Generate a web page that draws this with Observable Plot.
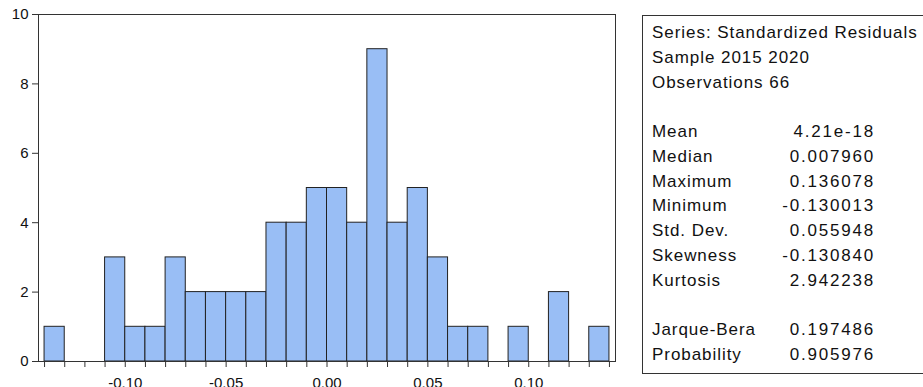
<!DOCTYPE html>
<html>
<head>
<meta charset="utf-8">
<script src="https://cdn.jsdelivr.net/npm/d3@7"></script>
<script src="https://cdn.jsdelivr.net/npm/@observablehq/plot@0.6"></script>
<style>
  html, body { margin: 0; padding: 0; background: #ffffff; overflow: hidden; }
  #wrap { position: relative; width: 923px; height: 387px; font-family: "Liberation Sans", Arial, sans-serif; }
  #chart { position: absolute; left: 0; top: 0; }
  #stats {
    position: absolute; left: 642px; top: 15px; width: 300px; height: 359px;
    border: 1px solid #333; box-sizing: border-box; padding: 5px 0 0 9px;
    font-size: 17px; line-height: 24.75px; color: #111; white-space: nowrap;
  }
  .hdr, .lab { letter-spacing: 0.95px; }
  .val { letter-spacing: 1.8px; margin-right: -2px; }
  .row { display: flex; justify-content: space-between; width: 221px; }
  .gap { height: 24.75px; }
</style>
</head>
<body>
<div id="wrap">
  <div id="chart"></div>
  <div id="stats"></div>
</div>
<script>
// Histogram bins (lower edges, width 0.01) and observed counts
const binLower = [-0.14, -0.13, -0.12, -0.11, -0.10, -0.09, -0.08, -0.07, -0.06, -0.05, -0.04, -0.03, -0.02, -0.01,
                  0.00, 0.01, 0.02, 0.03, 0.04, 0.05, 0.06, 0.07, 0.08, 0.09, 0.10, 0.11, 0.12, 0.13];
const binWidth = 0.01;
const counts = [1, 0, 0, 3, 1, 1, 3, 2, 2, 2, 2, 4, 4, 5,
                5, 4, 9, 4, 5, 3, 1, 1, 0, 1, 0, 2, 0, 1];
const xTickLabels = [-0.10, -0.05, 0.00, 0.05, 0.10];
const yTicks = [0, 2, 4, 6, 8, 10];

// Statistics panel text
const headerLines = ["Series: Standardized Residuals", "Sample 2015 2020", "Observations 66"];
const statLabels = ["Mean", "Median", "Maximum", "Minimum", "Std. Dev.", "Skewness", "Kurtosis"];
const statValues = ["4.21e-18", "0.007960", "0.136078", "-0.130013", "0.055948", "-0.130840", "2.942238"];
const testLabels = ["Jarque-Bera", "Probability"];
const testValues = ["0.197486", "0.905976"];

const bins = binLower.map((lo, i) => ({x1: lo, x2: +(lo + binWidth).toFixed(2), count: counts[i]}))
  .filter(d => d.count > 0);
const binEdges = [...binLower, +(binLower[binLower.length - 1] + binWidth).toFixed(2)];

const chart = Plot.plot({
  width: 923,
  height: 395,
  marginLeft: 38,
  marginRight: 308,
  marginTop: 14,
  marginBottom: 34,
  style: {fontFamily: "'Liberation Sans', Arial, sans-serif", fontSize: "15px", color: "#111", background: "transparent", overflow: "visible"},
  x: {domain: [-0.143, 0.143]},
  y: {domain: [0, 10]},
  marks: [
    Plot.rectY(bins, {x1: "x1", x2: "x2", y: "count", fill: "#99bef5", stroke: "#222", strokeWidth: 1}),
    Plot.frame({stroke: "#333", strokeWidth: 1}),
    Plot.axisY({ticks: yTicks, tickSize: 6, tickPadding: 4, tickFormat: d => String(d), label: null, stroke: "#333"}),
    Plot.axisX({ticks: binEdges, tickSize: 6, tickFormat: () => "", label: null, stroke: "#333"}),
    Plot.axisX({ticks: xTickLabels, tickSize: 0, tickPadding: 16, tickFormat: d => d.toFixed(2), label: null})
  ]
});
document.getElementById("chart").appendChild(chart);

const stats = document.getElementById("stats");
function addLine(text) { const d = document.createElement("div"); d.className = "hdr"; d.textContent = text; stats.appendChild(d); }
function addRow(l, v) {
  const r = document.createElement("div"); r.className = "row";
  const a = document.createElement("span"); a.className = "lab"; a.textContent = l;
  const b = document.createElement("span"); b.className = "val"; b.textContent = v;
  r.appendChild(a); r.appendChild(b); stats.appendChild(r);
}
function addGap() { const g = document.createElement("div"); g.className = "gap"; stats.appendChild(g); }
headerLines.forEach(addLine);
addGap();
statLabels.forEach((l, i) => addRow(l, statValues[i]));
addGap();
testLabels.forEach((l, i) => addRow(l, testValues[i]));
</script>
</body>
</html>
